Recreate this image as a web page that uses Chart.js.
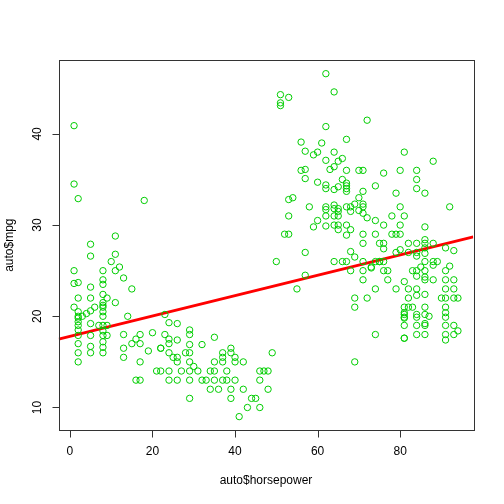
<!DOCTYPE html>
<html>
<head>
<meta charset="utf-8">
<script src="https://cdn.jsdelivr.net/npm/chart.js@4.4.1/dist/chart.umd.min.js"></script>
<style>
  html, body { margin: 0; padding: 0; background: #fff; }
  #plot { display: block; }
</style>
</head>
<body>
<canvas id="plot" width="504" height="504"></canvas>
<script>
// horsepower (factor code) and mpg
const horsepower = [
  1, 1, 2, 18, 11, 5, 5, 11, 10, 12, 11, 1, 8, 13, 1, 2, 8, 8, 5, 15,
  8, 2, 5, 9, 11, 8, 8, 1, 6, 8, 2, 4, 5, 2, 3, 8, 8, 2, 2, 5,
  7, 9, 8, 8, 14, 2, 2, 5, 2, 8, 8, 8, 9, 13, 17, 16, 15, 17, 20, 2,
  5, 13, 13, 19, 22, 2, 5, 8, 2, 17, 21, 22, 16, 17,
  23, 24, 26, 23, 24, 24, 26, 29, 29, 29, 32, 35, 22, 24, 25, 26, 28, 29, 26, 29,
  30, 29, 24, 27, 31, 34, 35, 38, 37, 37, 37, 39, 39, 40, 40, 42, 49, 35, 24, 26,
  29, 32, 33, 35, 37, 38, 40, 46, 47, 48, 46, 34, 36, 39, 42, 48, 29, 39, 44, 45,
  43, 46, 41,
  62, 64, 51, 53, 51, 51, 72, 62, 67, 56, 61, 57, 59, 60, 64, 62, 66, 65, 64, 63,
  67, 70, 71, 56, 57, 57, 60, 62, 62, 66, 67, 67, 67, 67, 65, 64, 71, 74, 70, 53,
  54, 58, 62, 62, 64, 64, 65, 67, 68, 69, 71, 71,
  53, 62, 64, 65, 65, 68, 70, 71, 72, 60, 59, 62, 64, 65, 67, 74, 65, 67, 68, 52,
  53, 71, 74, 71, 75, 57, 68, 69, 50, 64, 66, 67, 71, 74, 68, 71, 73, 57, 71, 55,
  74, 69, 72, 69, 74, 69,
  81, 88, 76, 80, 84, 84, 84, 79, 86, 80, 92, 78, 81, 76, 80, 86, 79, 80, 76, 76,
  82, 84, 86, 86, 88, 86, 86, 91, 93, 79, 80, 82, 84, 84, 86, 75, 76, 88, 89, 88,
  92, 76, 77, 83, 84, 85, 86, 91, 84, 77, 81, 86, 86, 88, 91, 93, 79, 82, 84, 86,
  84, 91, 93, 82, 90, 91, 93, 94, 81, 82, 83, 81, 86, 91, 91, 91, 81, 81, 84, 84,
  86, 86, 87, 84, 86, 91, 93, 94, 81, 84, 86, 91, 91, 93, 81, 81, 81, 73, 75, 78
];
const mpg = [
  40.9, 34.5, 32.9, 32.7, 28.8, 27.9, 26.6, 26.8, 26, 25.4, 25, 25, 25, 24.2, 23.6, 23.7, 24, 23.5, 23.2, 23,
  22.4, 22, 22, 22, 21.5, 21.5, 21.2, 21, 21, 21, 20.5, 20.3, 20.6, 20, 20, 20.5, 20, 19.8, 19.4, 19.2,
  19, 19, 19, 18.4, 20, 19, 18.5, 17.9, 17.9, 17.9, 17.2, 16.6, 17.9, 18, 18, 17.5, 17, 17, 18.2, 17,
  16.7, 16.5, 15.5, 16.2, 16.5, 16, 16, 16, 15, 15, 14, 14, 13, 13,
  20.2, 19.3, 19.2, 18, 17.5, 17, 17.4, 18.5, 18, 16.9, 16.9, 17.7, 16.5, 16, 15.5, 15.5, 16, 16, 15, 15,
  14.5, 14, 14, 14, 14, 14, 14, 14, 16, 15.5, 15, 16.5, 16, 15.5, 15, 15, 16, 15, 13, 13,
  13, 13, 13, 13, 13, 13, 13, 14, 14, 14, 13, 12, 12, 12, 12, 12, 11, 11, 11, 11,
  10, 10, 9,
  46.6, 44.6, 44.3, 44, 43.4, 43.1, 41.5, 40.8, 39.4, 39.1, 39, 38.1, 37.7, 38, 38, 37.1, 37.3, 37, 36.4, 36.1,
  36, 36, 36, 36, 36.1, 35.1, 34.7, 34.4, 34, 35, 34.6, 34.3, 34, 33.7, 34.2, 33.9, 33.7, 34.3, 33, 32.8,
  33, 32, 32, 31.7, 32.2, 31.8, 31.8, 32, 32, 32.3, 32.3, 32,
  31, 31, 31, 31.5, 31, 31.5, 31.6, 31.3, 30.8, 30.5, 29.8, 29.9, 30, 30, 30, 30.5, 29.5, 28.9, 29.5, 29,
  29, 29, 29, 28, 28, 27, 27.1, 26.5, 26, 26, 26, 26, 26, 26, 25, 25, 25.3, 24.5, 24, 23,
  23, 22, 22, 21, 18, 15,
  38, 37, 35.7, 36, 36, 35, 34, 33.5, 33.5, 32, 32, 31, 31, 30, 30, 29.8, 29, 29, 28, 27.4,
  28, 28, 28.4, 28, 28, 27.5, 26.9, 27.5, 27.2, 27, 27.3, 27, 27, 26.6, 26, 26, 26, 26, 26, 25.6,
  25.5, 25, 25, 25, 25, 25.4, 25, 25, 24.4, 24, 23.8, 24.3, 24, 24, 24, 24, 23, 23, 23, 22.4,
  22.3, 23, 23, 22, 22, 22, 22, 22, 21, 21, 21, 20.4, 21, 21, 20.4, 19.9, 19.9, 19, 20.2, 19.9,
  20.2, 19.2, 20, 19, 19, 19, 19, 18.4, 17.6, 18, 18, 18, 17.4, 18, 20.2, 19.8, 17.6, 25.4, 26, 29
];
// abline(lm(mpg ~ horsepower)): intercept, slope
const fitCoef = [17.8, 0.1116];
const xTicks = [0, 20, 40, 60, 80];
const yTicks = [10, 20, 30, 40];

const xMin = -2.72, xMax = 97.72;
const yMin = 7.5, yMax = 48.1;

const points = horsepower.map((h, i) => ({ x: h, y: mpg[i] }));
const fitLine = [xMin, xMax].map(x => ({ x: x, y: fitCoef[0] + fitCoef[1] * x }));

const FONT = '12px "Liberation Sans", Arial, sans-serif';

// base-graphics style frame, ticks and labels
const rAxes = {
  id: 'rAxes',
  afterDraw(chart) {
    const ctx = chart.ctx;
    const a = chart.chartArea;
    const xs = chart.scales.x, ys = chart.scales.y;
    ctx.save();
    ctx.strokeStyle = '#333';
    ctx.lineWidth = 1;
    ctx.strokeRect(Math.round(a.left) + 0.5, Math.round(a.top) + 0.5,
      Math.round(a.right - a.left), Math.round(a.bottom - a.top));

    ctx.fillStyle = '#000';
    ctx.font = FONT;

    // x axis
    ctx.beginPath();
    const bx = Math.round(a.bottom) + 0.5;
    ctx.moveTo(xs.getPixelForValue(xTicks[0]), bx);
    ctx.lineTo(xs.getPixelForValue(xTicks[xTicks.length - 1]), bx);
    xTicks.forEach(t => {
      const px = Math.round(xs.getPixelForValue(t)) + 0.5;
      ctx.moveTo(px, bx);
      ctx.lineTo(px, bx + 7);
    });
    ctx.stroke();
    ctx.textAlign = 'center';
    ctx.textBaseline = 'middle';
    xTicks.forEach(t => ctx.fillText(String(t), xs.getPixelForValue(t), 452));
    ctx.fillText('auto$horsepower', (a.left + a.right) / 2, 481);

    // y axis
    ctx.beginPath();
    const lx = Math.round(a.left) + 0.5;
    ctx.moveTo(lx, ys.getPixelForValue(yTicks[0]));
    ctx.lineTo(lx, ys.getPixelForValue(yTicks[yTicks.length - 1]));
    yTicks.forEach(t => {
      const py = Math.round(ys.getPixelForValue(t)) + 0.5;
      ctx.moveTo(lx, py);
      ctx.lineTo(lx - 7, py);
    });
    ctx.stroke();
    yTicks.forEach(t => {
      ctx.save();
      ctx.translate(38, ys.getPixelForValue(t));
      ctx.rotate(-Math.PI / 2);
      ctx.fillText(String(t), 0, 0);
      ctx.restore();
    });
    ctx.save();
    ctx.translate(10, (a.top + a.bottom) / 2);
    ctx.rotate(-Math.PI / 2);
    ctx.fillText('auto$mpg', 0, 0);
    ctx.restore();
    ctx.restore();
  }
};

new Chart(document.getElementById('plot').getContext('2d'), {
  type: 'scatter',
  data: {
    datasets: [{
      data: points,
      pointStyle: 'circle',
      pointRadius: 3.2,
      pointHoverRadius: 3.2,
      borderColor: 'rgb(0,205,0)',
      backgroundColor: 'rgba(0,0,0,0)',
      borderWidth: 1
    }, {
      type: 'line',
      data: fitLine,
      borderColor: '#ff0000',
      borderWidth: 3,
      pointRadius: 0,
      fill: false,
      tension: 0
    }]
  },
  options: {
    responsive: false,
    animation: false,
    devicePixelRatio: 1,
    layout: { padding: { left: 58.7, right: 30.7, top: 60, bottom: 73.7 } },
    plugins: { legend: { display: false }, tooltip: { enabled: false } },
    scales: {
      x: {
        type: 'linear', min: xMin, max: xMax,
        ticks: { display: false }, grid: { display: false }, border: { display: false },
        afterFit: s => { s.height = 0; }
      },
      y: {
        type: 'linear', min: yMin, max: yMax,
        ticks: { display: false }, grid: { display: false }, border: { display: false },
        afterFit: s => { s.width = 0; }
      }
    }
  },
  plugins: [rAxes]
});
</script>
</body>
</html>
